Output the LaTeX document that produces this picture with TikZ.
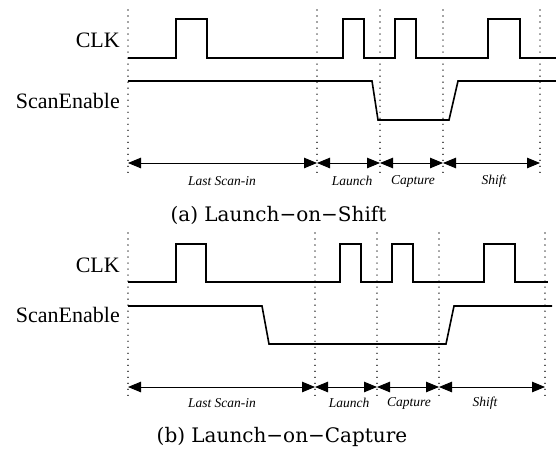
\documentclass[tikz,border=0pt]{standalone}
\usepackage{fontspec}
\setmainfont{Liberation Serif}
\newfontfamily\capfont{DejaVu Serif}
\usetikzlibrary{arrows.meta}
\tikzset{
  sig/.style={line width=1.6pt, line join=miter},
  guide/.style={line width=1.1pt, dash pattern=on 0.01pt off 6pt, line cap=round},
  span/.style={line width=0.9pt, {Triangle[length=13pt,width=10.5pt]}-{Triangle[length=13pt,width=10.5pt]}},
  siglabel/.style={anchor=east, inner sep=0pt, font=\fontsize{22}{24}\selectfont},
  phase/.style={inner sep=0pt, font=\fontsize{13.5}{15}\selectfont\itshape},
  caption/.style={inner sep=0pt, font=\capfont\fontsize{20}{22}\selectfont}
}
\begin{document}
\begin{tikzpicture}[x=1pt,y=-1pt]
\useasboundingbox (0,0) rectangle (556,455);
\fill[white] (0,0) rectangle (556,455);
% ---------------- (a) Launch-on-Shift ----------------
\foreach \n/\x in {1/128,2/317,3/380,4/443,5/540}{
  \coordinate (at\n) at (\x,10);
  \coordinate (ab\n) at (\x,173);
  \coordinate (aa\n) at (\x,163);
  \draw[guide] (at\n) -- (ab\n);
}
\node[siglabel] (aclk) at (120,40) {CLK};
\node[siglabel] (ase) at (120,101) {ScanEnable};
\draw[sig] (128,58) -- (176,58) -- (176,19) -- (207,19) -- (207,58)
  -- (343,58) -- (343,19) -- (364,19) -- (364,58)
  -- (395,58) -- (395,19) -- (416,19) -- (416,58)
  -- (488,58) -- (488,19) -- (520,19) -- (520,58) -- (556,58);
\draw[sig] (128,81) -- (372,81) -- (378,120) -- (449,120) -- (458,81) -- (556,81);
\draw[span] (aa1) -- (aa2);
\draw[span] (aa2) -- (aa3);
\draw[span] (aa3) -- (aa4);
\draw[span] (aa4) -- (aa5);
\node[phase] (al1) at (222,181) {Last Scan-in};
\node[phase] (al2) at (352,181) {Launch};
\node[phase] (al3) at (413,181) {Capture};
\node[phase] (al4) at (494,181) {Shift};
\node[caption] (acap) at (278.5,215) {(a) Launch−on−Shift};
% ---------------- (b) Launch-on-Capture ----------------
\foreach \n/\x in {1/128,2/315,3/377,4/439,5/545}{
  \coordinate (bt\n) at (\x,233);
  \coordinate (bb\n) at (\x,398);
  \coordinate (ba\n) at (\x,387);
  \draw[guide] (bt\n) -- (bb\n);
}
\node[siglabel] (bclk) at (120,265) {CLK};
\node[siglabel] (bse) at (120,315) {ScanEnable};
\draw[sig] (128,282) -- (176,282) -- (176,244) -- (206,244) -- (206,282)
  -- (340,282) -- (340,244) -- (361,244) -- (361,282)
  -- (392,282) -- (392,244) -- (413,244) -- (413,282)
  -- (484,282) -- (484,244) -- (515,244) -- (515,282) -- (548,282);
\draw[sig] (128,306) -- (262,306) -- (269,344) -- (446,344) -- (454,306) -- (552,306);
\draw[span] (ba1) -- (ba2);
\draw[span] (ba2) -- (ba3);
\draw[span] (ba3) -- (ba4);
\draw[span] (ba4) -- (ba5);
\node[phase] (bl1) at (222,403) {Last Scan-in};
\node[phase] (bl2) at (349,403) {Launch};
\node[phase] (bl3) at (409,403) {Capture};
\node[phase] (bl4) at (485,403) {Shift};
\node[caption] (bcap) at (282,437) {(b) Launch−on−Capture};
\end{tikzpicture}
\end{document}
